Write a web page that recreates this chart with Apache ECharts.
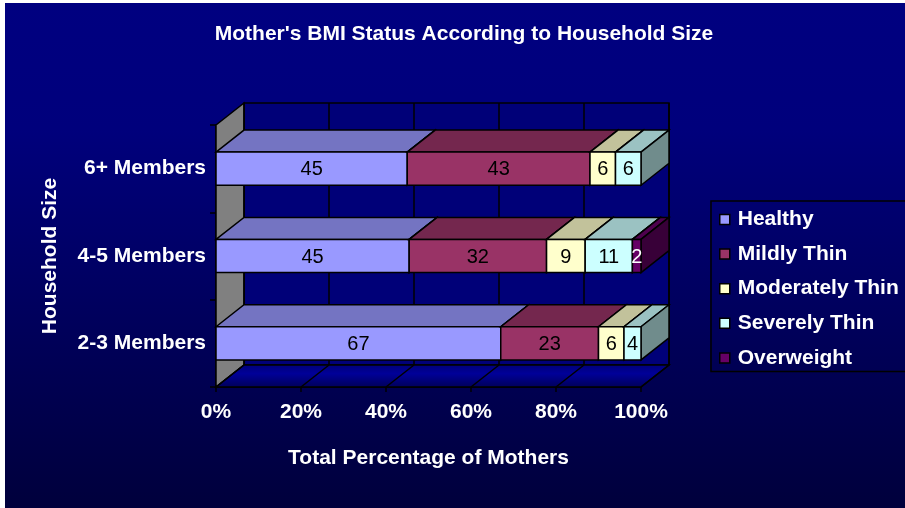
<!DOCTYPE html>
<html>
<head>
<meta charset="utf-8">
<script src="https://cdn.jsdelivr.net/npm/echarts@6/dist/echarts.min.js"></script>
<style>
html,body{margin:0;padding:0;background:#fff;}
#chart{width:905px;height:508px;}
</style>
</head>
<body>
<div id="chart"></div>
<script>
// ---- data ----
const categories = ['2-3 Members', '4-5 Members', '6+ Members'];
const seriesNames = ['Healthy', 'Mildly Thin', 'Moderately Thin', 'Severely Thin', 'Overweight'];
const healthy = [67, 45, 45];
const mildlyThin = [23, 32, 43];
const moderatelyThin = [6, 9, 6];
const severelyThin = [4, 11, 6];
const overweight = [0, 2, 0];
const xTicks = [0, 20, 40, 60, 80, 100];

// ---- style ----
const colors = ['#9999FF', '#993366', '#FFFFCC', '#CCFFFF', '#660066'];
const labelColors = ['#000', '#000', '#000', '#000', '#fff'];
const DX = 28, DY = 22, BAR_RATIO = 0.38;
const FONT = 'Arial, "Liberation Sans", Helvetica, sans-serif';

function shade(hex, f) {
  const n = parseInt(hex.slice(1), 16);
  const r = Math.round(((n >> 16) & 255) * f), g = Math.round(((n >> 8) & 255) * f), b = Math.round((n & 255) * f);
  return 'rgb(' + r + ',' + g + ',' + b + ')';
}

const allValues = [healthy, mildlyThin, moderatelyThin, severelyThin, overweight];
const totals = categories.map((c, i) => allValues.reduce((s, arr) => s + arr[i], 0));
const cum = categories.map(() => 0);
const stackedData = allValues.map(arr => arr.map((v, i) => {
  const start = cum[i] / totals[i] * 100;
  cum[i] += v;
  const end = cum[i] / totals[i] * 100;
  return [i, start, end, v];
}));

const chart = echarts.init(document.getElementById('chart'));

function makeBarRenderer(k) {
  const front = colors[k], top = shade(colors[k], 0.76), side = shade(colors[k], 0.55);
  return function (params, api) {
    const cat = api.value(0), s = api.value(1), e = api.value(2), raw = api.value(3);
    if (!(e > s)) return null;
    const a = api.coord([s, cat]), b = api.coord([e, cat]);
    const band = api.size([0, 1])[1];
    const h = band * BAR_RATIO;
    const x0 = a[0], x1 = b[0], y0 = a[1] - h / 2, y1 = a[1] + h / 2;
    const stroke = { stroke: '#000', lineWidth: 1.5, lineJoin: 'miter' };
    return {
      type: 'group',
      children: [
        { type: 'polygon', shape: { points: [[x0, y0], [x0 + DX, y0 - DY], [x1 + DX, y0 - DY], [x1, y0]] }, style: Object.assign({ fill: top }, stroke) },
        { type: 'polygon', shape: { points: [[x1, y0], [x1 + DX, y0 - DY], [x1 + DX, y1 - DY], [x1, y1]] }, style: Object.assign({ fill: side }, stroke) },
        { type: 'rect', shape: { x: x0, y: y0, width: x1 - x0, height: h }, style: Object.assign({ fill: front }, stroke) },
        { type: 'text', z2: 10, style: { text: String(raw), x: (x0 + x1) / 2, y: (y0 + y1) / 2 + 1, align: 'center', verticalAlign: 'middle', fill: labelColors[k], fontSize: 20, fontFamily: FONT } }
      ]
    };
  };
}

function renderFrame(params, api) {
  const v = api.value(0);
  const cs = params.coordSys;
  const left = cs.x, top = cs.y, right = cs.x + cs.width, bottom = cs.y + cs.height;
  const x = api.coord([v, 0])[0];
  const children = [];
  const ln = { stroke: '#000', lineWidth: 1.5 };
  if (params.dataIndex === 0) {
    children.push({ type: 'rect', shape: { x: left + DX, y: top - DY, width: cs.width, height: cs.height }, style: Object.assign({ fill: '#000078' }, ln) });
    children.push({ type: 'polygon', shape: { points: [[left, top], [left + DX, top - DY], [left + DX, bottom - DY], [left, bottom]] }, style: Object.assign({ fill: '#808080' }, ln) });
    children.push({ type: 'polygon', shape: { points: [[left, bottom], [left + DX, bottom - DY], [right + DX, bottom - DY], [right, bottom]] },
      style: Object.assign({ fill: new echarts.graphic.LinearGradient(0, 0, 0, 1, [{ offset: 0, color: '#000078' }, { offset: 0.4, color: '#000098' }, { offset: 1, color: '#000058' }]) }, ln) });
  }
  children.push({ type: 'line', shape: { x1: x + DX, y1: top - DY, x2: x + DX, y2: bottom - DY }, style: ln });
  children.push({ type: 'line', shape: { x1: x, y1: bottom, x2: x + DX, y2: bottom - DY }, style: ln });
  return { type: 'group', children: children };
}

const series = [{
  type: 'custom', name: '__frame', z: 1, silent: true,
  renderItem: renderFrame,
  data: xTicks.map(t => [t]),
  encode: { x: 0 }
}];
seriesNames.forEach((name, k) => {
  series.push({
    type: 'custom', name: name, z: 2,
    itemStyle: { color: colors[k] },
    renderItem: makeBarRenderer(k),
    data: stackedData[k],
    encode: { x: [1, 2], y: 0 }
  });
});

chart.setOption({
  animation: false,
  backgroundColor: '#ffffff',
  graphic: [{
    type: 'rect', z: -100, silent: true,
    shape: { x: 5, y: 3, width: 900, height: 505 },
    style: { fill: new echarts.graphic.LinearGradient(0, 0, 0, 1, [{ offset: 0, color: '#000080' }, { offset: 0.25, color: '#00007c' }, { offset: 1, color: '#00003c' }]) }
  }],
  title: {
    text: "Mother's BMI Status According to Household Size",
    left: 464, top: 24, textAlign: 'center', padding: 0,
    textStyle: { color: '#fff', fontSize: 21, fontWeight: 'bold', fontFamily: FONT }
  },
  legend: {
    data: seriesNames,
    orient: 'vertical',
    left: 711, top: 201,
    padding: [8, 30, 3, 8],
    icon: 'rect', itemWidth: 10, itemHeight: 10, itemGap: 13.6,
    backgroundColor: 'transparent',
    borderColor: '#000', borderWidth: 1.5,
    itemStyle: { borderColor: '#000', borderWidth: 1.5 },
    textStyle: { color: '#fff', fontSize: 21, fontWeight: 'bold', fontFamily: FONT, lineHeight: 20, padding: [0, 0, 0, 3] }
  },
  grid: { left: 216, top: 125, width: 425, height: 262, containLabel: false },
  xAxis: {
    type: 'value', min: 0, max: 100, interval: 20,
    name: 'Total Percentage of Mothers', nameLocation: 'middle', nameGap: 61,
    nameTextStyle: { color: '#fff', fontSize: 21, fontWeight: 'bold', fontFamily: FONT },
    axisLine: { show: true, lineStyle: { color: '#000', width: 1.5 } },
    axisTick: { show: true, length: 5, lineStyle: { color: '#000', width: 1.5 } },
    axisLabel: { formatter: '{value}%', color: '#fff', fontSize: 21, fontWeight: 'bold', fontFamily: FONT, margin: 15 },
    splitLine: { show: false }
  },
  yAxis: {
    type: 'category', data: categories,
    name: 'Household Size', nameLocation: 'middle', nameGap: 155,
    nameTextStyle: { color: '#fff', fontSize: 21, fontWeight: 'bold', fontFamily: FONT },
    axisLine: { show: true, lineStyle: { color: '#000', width: 1.5 } },
    axisTick: { show: true, length: 6, lineStyle: { color: '#000', width: 1.5 } },
    axisLabel: { color: '#fff', fontSize: 21, fontWeight: 'bold', fontFamily: FONT, margin: 10 },
    splitLine: { show: false }
  },
  series: series
});
</script>
</body>
</html>
